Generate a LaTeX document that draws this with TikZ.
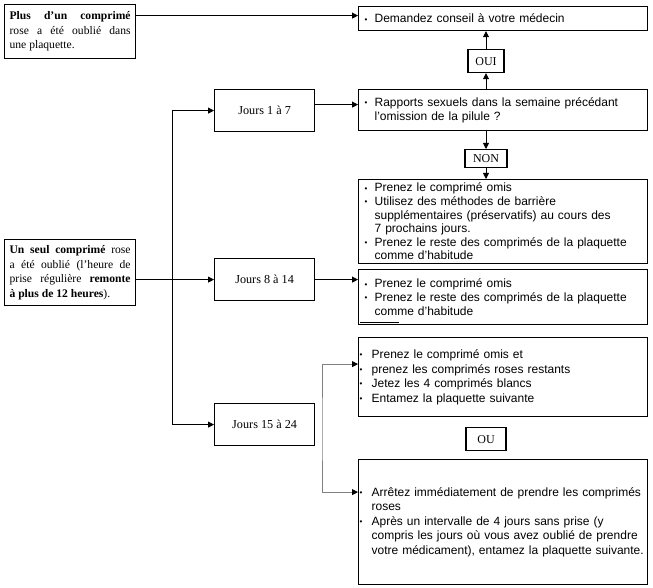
\documentclass[tikz,border=0pt]{standalone}
\usepackage{fontspec}
\setmainfont{Liberation Serif}
\setsansfont{Liberation Sans}
\usetikzlibrary{arrows.meta, calc}

\newcommand{\puce}{\makebox[10pt][l]{\raisebox{0.6pt}{\footnotesize\textbullet}}}
\newcommand{\retrait}{\hspace*{10pt}}
\newcommand{\puceb}{\makebox[12pt][l]{\raisebox{0.6pt}{\footnotesize\textbullet}}}
\newcommand{\retraitb}{\hspace*{12pt}}

\begin{document}
\begin{tikzpicture}[
    x=1pt, y=-1pt,
    >={Triangle[length=6pt, width=6pt, color=black]}, % filled tips everywhere
    fleche/.style={->, line width=0.8pt},
    cas/.style={draw, line width=1.2pt, anchor=north west, text width=121pt, inner xsep=5pt, inner ysep=0pt, align=justify, font=\fontsize{11.6}{14.5}\selectfont}, % left boxes
    jour/.style={draw, line width=1.2pt, anchor=north west, minimum width=100pt, minimum height=42pt, font=\fontsize{12.2}{13}\selectfont},
    boite/.style={draw, line width=1.2pt, anchor=north west, text width=277pt, inner xsep=6pt, inner ysep=0pt, align=left, font=\sffamily\fontsize{12}{13.6}\selectfont}, % bullet boxes
    option/.style={boite, text width=287pt, inner xsep=1pt, font=\sffamily\fontsize{12}{14.5}\selectfont},
    tag/.style={draw, line width=1.2pt, anchor=north, inner sep=0pt, font=\fontsize{12}{13}\selectfont}
]
\useasboundingbox (0,0) rectangle (653,588);

% Left column
\node[cas, minimum height=54pt] (plus) at (4,4)
    {\textbf{Plus d'un comprimé}\linebreak rose a été oublié dans\linebreak une plaquette.};
\node[cas, minimum height=66pt] (seul) at (4,239)
    {\textbf{Un seul comprimé} rose\linebreak a été oublié (l'heure de\linebreak prise régulière \textbf{remonte\linebreak à plus de 12 heures}).};

% Day ranges
\node[jour] (jour1) at (214,89) {Jours 1 à 7};
\node[jour] (jour8) at (214,258) {Jours 8 à 14};
\node[jour] (jour15) at (214,403) {Jours 15 à 24};

% Right column
\node[boite, minimum height=24pt] (demande) at (358,6)
    {\puce Demandez conseil à votre médecin};
\node[boite, minimum height=41pt] (rapports) at (358,89)
    {\puce Rapports sexuels dans la semaine précédant\\
     \retrait l'omission de la pilule ?};
\node[boite, minimum height=84pt] (prenez1) at (358,179)
    {\puce Prenez le comprimé omis\\
     \puce Utilisez des méthodes de barrière\\
     \retrait supplémentaires (préservatifs) au cours des\\
     \retrait 7 prochains jours.\\
     \puce Prenez le reste des comprimés de la plaquette\\
     \retrait comme d'habitude};
\node[boite, minimum height=55pt] (prenez2) at (358,269)
    {\puce Prenez le comprimé omis\\
     \puce Prenez le reste des comprimés de la plaquette\\
     \retrait comme d'habitude};
\node[option, minimum height=79pt] (option1) at (358,337)
    {\puceb Prenez le comprimé omis et\\
     \puceb prenez les comprimés roses restants\\
     \puceb Jetez les 4 comprimés blancs\\
     \puceb Entamez la plaquette suivante};
\node[option, minimum height=125pt] (option2) at (358,459)
    {\puceb Arrêtez immédiatement de prendre les comprimés\\
     \retraitb roses\\
     \puceb Après un intervalle de 4 jours sans prise (y\\
     \retraitb compris les jours où vous avez oublié de prendre\\
     \retraitb votre médicament), entamez la plaquette suivante.};

% Small labels
\node[tag, minimum width=36pt, minimum height=23pt] (oui) at (486,49) {OUI};
\node[tag, minimum width=42pt, minimum height=18pt] (non) at (486,149) {NON};
\node[tag, minimum width=40pt, minimum height=23pt] (ou) at (486,427) {OU};

% Connectors
\coordinate (entree) at ([yshift=3pt]demande.west);
\draw[fleche] (entree -| plus.east) -- (entree);
\draw[fleche] (oui.south |- rapports.north) -- (oui.south);
\draw[fleche] (oui.north) -- (oui.north |- demande.south);
\draw[fleche] (non.north |- rapports.south) -- (non.north);
\draw[fleche] (non.south) -- (non.south |- prenez1.north);

\coordinate (tronc) at (172,0);
\draw[fleche] (tronc |- jour15.west) -- (jour15.west);
\draw[fleche] (tronc |- jour15.west) |- (jour1.west);
\draw[fleche] (seul.east |- jour8.west) -- (jour8.west);

\coordinate (sortie1) at ([yshift=6pt]jour1.east);
\draw[fleche] (sortie1) -- (sortie1 -| rapports.west);
\draw[fleche] (jour8.east) -- (jour8.east -| prenez2.west);

% Gray fork to the two options
\coordinate (fourche) at (322,430);
\coordinate (entree1) at ([yshift=13pt]option1.west);
\coordinate (entree2) at ([yshift=30pt]option2.west);
\draw[fleche, <->, gray] (entree1) -| (fourche) |- (entree2);

% stray underline
\draw[line width=0.6pt] ([shift={(2,-3)}]prenez2.south west) -- ++(39,0);

\end{tikzpicture}
\end{document}
